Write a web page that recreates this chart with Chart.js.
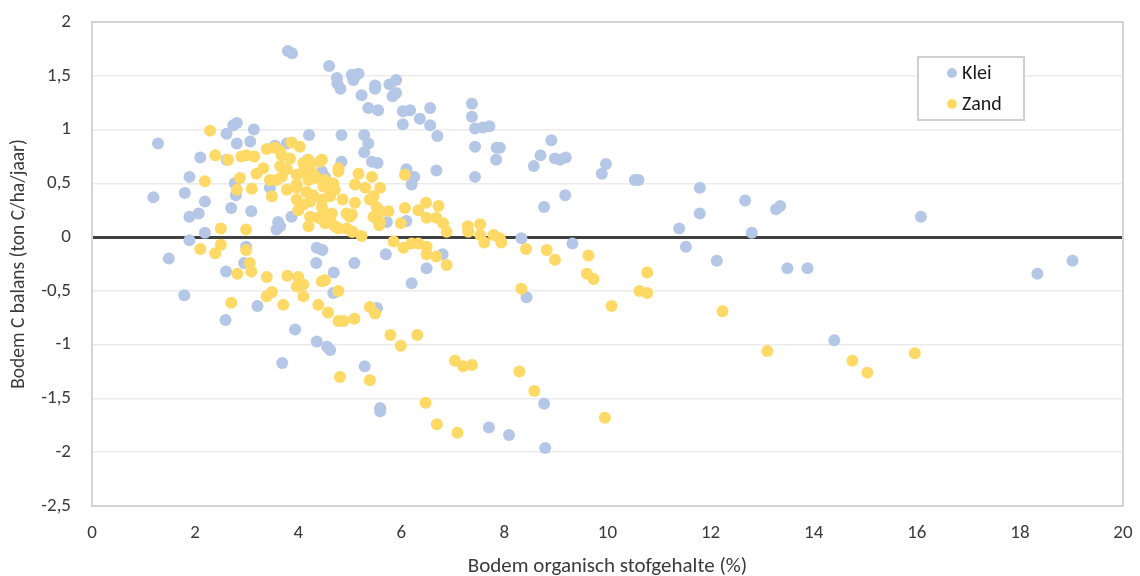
<!DOCTYPE html>
<html>
<head>
<meta charset="utf-8">
<script src="https://cdn.jsdelivr.net/npm/chart.js@4.4.1/dist/chart.umd.min.js"></script>
<style>
html,body{margin:0;padding:0;background:#fff;}
#wrap{width:1140px;height:576px;}
</style>
</head>
<body>
<div id="wrap"><canvas id="c" width="1140" height="576"></canvas></div>
<script>
const seriesLabels = ["Klei", "Zand"];
const xTicks = [0, 2, 4, 6, 8, 10, 12, 14, 16, 18, 20];
const yTicks = [-2.5, -2, -1.5, -1, -0.5, 0, 0.5, 1, 1.5, 2];

const kleiX = [1.28,1.19,1.49,1.80,1.79,1.89,1.89,2.07,1.89,2.10,2.19,2.19,2.60,2.59,2.61,2.70,2.74,2.81,2.81,2.79,2.77,2.61,3.14,3.07,3.09,2.99,2.95,3.21,3.55,3.78,3.45,3.61,3.65,3.58,3.87,3.69,3.94,3.80,3.88,4.21,4.19,4.36,4.47,4.35,4.69,4.68,4.36,4.56,4.62,4.46,4.52,4.60,4.75,4.76,4.82,4.84,4.84,5.04,5.17,5.07,5.49,5.49,5.23,5.77,5.90,5.83,5.90,5.36,5.55,6.03,6.17,6.03,6.36,6.56,6.56,6.70,7.37,7.37,7.43,7.58,7.71,7.43,7.85,7.91,7.84,7.43,5.28,5.36,5.28,5.43,5.54,6.10,6.25,6.20,6.68,8.57,8.70,8.91,8.98,9.08,9.19,9.18,8.77,8.33,9.32,9.89,9.97,10.53,10.60,11.79,11.79,11.39,11.52,12.12,12.67,12.80,13.27,13.35,13.49,13.88,14.40,16.08,18.34,19.02,5.55,5.72,6.10,8.43,8.77,8.79,7.70,8.09,5.59,5.59,5.29,5.53,5.09,5.70,6.49,6.20,6.80];
const kleiY = [0.87,0.37,-0.20,0.41,-0.54,0.56,0.19,0.22,-0.03,0.74,0.33,0.04,-0.32,-0.77,0.96,0.27,1.04,1.06,0.87,0.39,0.50,0.72,1.00,0.89,0.24,-0.09,-0.24,-0.64,0.85,0.87,0.46,0.14,0.10,0.07,0.19,-1.17,-0.86,1.73,1.71,0.95,0.72,-0.10,-0.12,-0.24,-0.33,-0.52,-0.97,-1.02,-1.05,0.61,0.56,1.59,1.48,1.43,1.38,0.95,0.70,1.51,1.52,1.46,1.41,1.38,1.32,1.42,1.46,1.31,1.34,1.20,1.18,1.17,1.18,1.05,1.10,1.20,1.04,0.94,1.24,1.12,1.01,1.02,1.03,0.84,0.83,0.83,0.72,0.56,0.95,0.87,0.79,0.70,0.69,0.63,0.56,0.49,0.62,0.66,0.76,0.90,0.73,0.72,0.74,0.39,0.28,-0.01,-0.06,0.59,0.68,0.53,0.53,0.46,0.22,0.08,-0.09,-0.22,0.34,0.04,0.26,0.29,-0.29,-0.29,-0.96,0.19,-0.34,-0.22,0.16,0.14,0.15,-0.56,-1.55,-1.96,-1.77,-1.84,-1.59,-1.62,-1.20,-0.66,-0.24,-0.16,-0.29,-0.43,-0.16];

const zandX = [2.29,2.39,2.64,2.19,2.90,3.00,3.15,3.39,3.55,3.65,3.87,4.03,3.68,3.84,2.87,2.81,3.10,3.19,3.32,3.45,3.49,3.65,3.78,3.68,3.58,3.78,3.97,4.10,4.23,4.42,4.46,4.20,4.16,4.36,3.97,4.10,4.29,4.20,4.52,4.62,3.97,4.16,4.29,4.46,4.62,4.71,3.97,4.10,4.23,4.46,4.65,4.00,4.23,4.49,4.39,4.20,4.52,4.71,4.62,4.78,4.94,4.49,4.62,4.78,4.68,4.78,4.86,4.94,5.04,5.04,2.50,2.99,2.10,2.50,2.39,2.99,3.06,3.09,2.82,3.39,3.79,4.00,4.10,3.97,4.10,3.49,3.39,2.70,3.71,4.39,4.46,4.52,4.78,4.58,4.78,4.88,4.81,5.17,5.43,5.10,5.30,5.59,6.07,5.10,5.39,5.52,5.75,5.46,5.59,5.46,5.00,5.59,5.57,5.23,5.06,6.07,6.33,6.48,6.72,6.49,6.68,6.81,6.88,5.99,7.29,7.30,7.53,7.53,7.61,7.79,7.91,7.94,5.85,6.04,6.20,6.33,6.49,6.49,6.68,6.88,8.42,8.82,8.98,9.63,9.60,9.73,5.09,5.39,5.49,5.79,5.99,6.31,5.39,7.04,7.20,7.37,6.47,6.69,7.09,8.29,8.58,8.33,9.95,10.77,10.62,10.77,10.08,12.23,13.10,14.75,15.04,15.96];
const zandY = [0.99,0.76,0.72,0.52,0.75,0.76,0.75,0.82,0.83,0.80,0.88,0.84,0.76,0.73,0.55,0.44,0.45,0.59,0.64,0.53,0.38,0.66,0.63,0.56,0.53,0.44,0.49,0.69,0.66,0.70,0.72,0.72,0.59,0.55,0.58,0.61,0.59,0.53,0.53,0.49,0.46,0.42,0.39,0.35,0.38,0.44,0.35,0.30,0.33,0.28,0.22,0.25,0.19,0.22,0.18,0.10,0.13,0.10,0.16,0.08,0.08,0.47,0.41,0.61,0.50,0.64,0.35,0.22,0.21,0.05,0.08,0.07,-0.11,-0.07,-0.15,-0.12,-0.24,-0.32,-0.34,-0.37,-0.36,-0.37,-0.44,-0.46,-0.55,-0.51,-0.55,-0.61,-0.63,-0.63,-0.41,-0.40,-0.50,-0.70,-0.78,-0.78,-1.30,0.59,0.56,0.49,0.46,0.46,0.58,0.32,0.35,0.28,0.24,0.38,0.24,0.19,0.19,0.14,0.11,0.01,0.05,0.27,0.25,0.32,0.29,0.18,0.18,0.13,0.05,0.13,0.10,0.05,0.12,0.02,-0.05,0.02,-0.01,-0.05,-0.04,-0.10,-0.06,-0.06,-0.09,-0.16,-0.18,-0.26,-0.11,-0.12,-0.21,-0.17,-0.34,-0.39,-0.76,-0.65,-0.71,-0.91,-1.01,-0.91,-1.33,-1.15,-1.20,-1.19,-1.54,-1.74,-1.82,-1.25,-1.43,-0.48,-1.68,-0.33,-0.50,-0.52,-0.64,-0.69,-1.06,-1.15,-1.26,-1.08];

const colors = ["#b4c7e7", "#ffd966"];
const FONT = "Carlito, Calibri, Lato, 'Liberation Sans', sans-serif";

function pts(xs, ys) { return xs.map((x, i) => ({ x: x, y: ys[i] })); }
function fmt(v) { return String(v).replace('.', ','); }

const frame = {
  id: 'frame',
  afterDraw(chart) {
    const ctx = chart.ctx, a = chart.chartArea;
    ctx.save();
    ctx.strokeStyle = '#d4d4d4';
    ctx.lineWidth = 2;
    ctx.strokeRect(a.left, a.top, a.right - a.left, a.bottom - a.top);
    // legend
    const lx = 918, ly = 57, lw = 106, lh = 63;
    ctx.fillStyle = '#fff';
    ctx.fillRect(lx, ly, lw, lh);
    ctx.strokeStyle = '#d0d0d0';
    ctx.lineWidth = 2;
    ctx.strokeRect(lx, ly, lw, lh);
    ctx.font = "20px " + FONT;
    ctx.textBaseline = 'middle';
    chart.data.datasets.forEach((ds, i) => {
      const cy = 73 + i * 31;
      ctx.fillStyle = ds.backgroundColor;
      ctx.beginPath();
      ctx.arc(952, cy, 5, 0, Math.PI * 2);
      ctx.fill();
      ctx.fillStyle = '#1a1a1a';
      ctx.fillText(ds.label, 962, cy + 1);
    });
    ctx.restore();
  }
};

new Chart(document.getElementById('c'), {
  type: 'scatter',
  data: {
    datasets: [
      { label: seriesLabels[0], data: pts(kleiX, kleiY), backgroundColor: colors[0], borderWidth: 0, pointRadius: 6, pointHoverRadius: 6, order: 1 },
      { label: seriesLabels[1], data: pts(zandX, zandY), backgroundColor: colors[1], borderWidth: 0, pointRadius: 6, pointHoverRadius: 6, order: 0 }
    ]
  },
  options: {
    responsive: false,
    animation: false,
    events: [],
    layout: { padding: { top: 22, right: 17, left: 0, bottom: 0 } },
    plugins: { legend: { display: false }, tooltip: { enabled: false } },
    scales: {
      x: {
        type: 'linear', min: 0, max: 20,
        afterBuildTicks(s) { s.ticks = xTicks.map(v => ({ value: v })); },
        afterFit(s) { s.height = 70; s.paddingLeft = 0; s.paddingRight = 0; },
        grid: { display: false, drawTicks: false },
        border: { display: false },
        ticks: { color: '#3a3a3a', font: { family: FONT, size: 19 }, padding: 16, maxRotation: 0, autoSkip: false },
        title: { display: true, text: 'Bodem organisch stofgehalte (%)', color: '#3a3a3a', font: { family: FONT, size: 21 }, padding: { top: 4, bottom: -3 } }
      },
      y: {
        type: 'linear', min: -2.5, max: 2,
        afterBuildTicks(s) { s.ticks = yTicks.map(v => ({ value: v })); },
        afterFit(s) { s.width = 92; s.paddingTop = 0; s.paddingBottom = 0; },
        grid: {
          drawTicks: false,
          color: c => (c.tick && c.tick.value === 0) ? '#404040' : '#ececec',
          lineWidth: c => (c.tick && c.tick.value === 0) ? 3 : 1.5
        },
        border: { display: false },
        ticks: { color: '#3a3a3a', font: { family: FONT, size: 19 }, padding: 21, callback: v => fmt(v), autoSkip: false },
        title: { display: true, text: 'Bodem C balans (ton C/ha/jaar)', color: '#3a3a3a', font: { family: FONT, size: 19.5 }, padding: { top: 7, bottom: 0 } }
      }
    }
  },
  plugins: [frame]
});
</script>
</body>
</html>
